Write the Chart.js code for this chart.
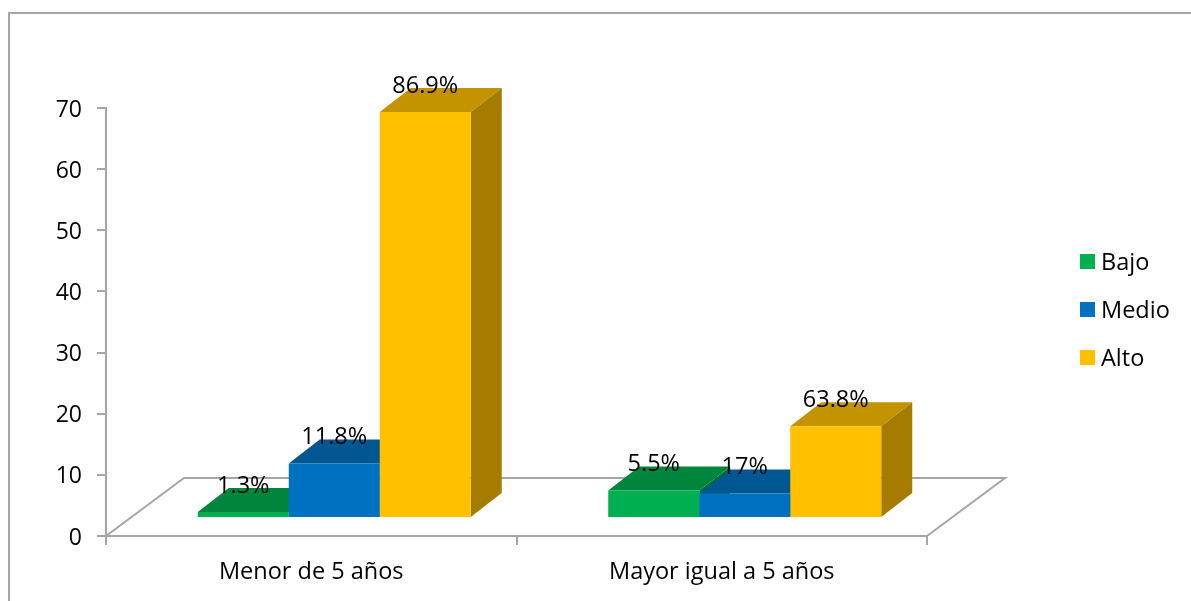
<!DOCTYPE html>
<html>
<head>
<meta charset="utf-8">
<title>Grafico</title>
<script src="https://cdn.jsdelivr.net/npm/chart.js@4/dist/chart.umd.min.js"></script>
<style>
html, body { margin: 0; padding: 0; background: #fff; overflow: hidden; }
canvas { display: block; }
</style>
</head>
<body>
<canvas id="grafico" width="1191" height="601"></canvas>
<script>
// Datos
const categorias = ['Menor de 5 años', 'Mayor igual a 5 años'];
const bajo = [1.0, 4.5];
const medio = [8.9, 4.0];
const alto = [66.4, 15.0];
const etiquetasBajo = ['1.3%', '5.5%'];
const etiquetasMedio = ['11.8%', '17%'];
const etiquetasAlto = ['86.9%', '63.8%'];

// Colores de cada serie: frente, tapa y lado
const coloresFrente = ['#00B050', '#0070C0', '#FFC000'];
const coloresTapa = ['#00863C', '#005792', '#C49300'];
const coloresLado = ['#007135', '#004A7C', '#A67C00'];
const etiquetas = [etiquetasBajo, etiquetasMedio, etiquetasAlto];

const fuente = '"Open Sans", Lato, sans-serif';
const colorEje = '#A6A6A6';

// Desplazamiento de las barras sobre el piso y profundidad del efecto 3D
const barraDx = 23, barraDy = -18;
const fondoX = 31, fondoY = 24;
const pisoX = 78, pisoY = 58;

function cara(ctx, color, puntos) {
    ctx.fillStyle = color;
    ctx.beginPath();
    puntos.forEach((p, i) => i ? ctx.lineTo(p[0], p[1]) : ctx.moveTo(p[0], p[1]));
    ctx.closePath();
    ctx.fill();
}

// Marco, piso y caras laterales
const efecto3d = {
    id: 'efecto3d',
    beforeDraw(chart) {
        const ctx = chart.ctx;
        ctx.save();
        ctx.strokeStyle = colorEje;
        ctx.lineWidth = 2;
        ctx.beginPath();
        ctx.moveTo(9, 601);
        ctx.lineTo(9, 13);
        ctx.lineTo(1191, 13);
        ctx.stroke();
        ctx.restore();
    },
    beforeDatasetsDraw(chart) {
        const ctx = chart.ctx;
        const a = chart.chartArea;
        ctx.save();
        ctx.strokeStyle = colorEje;
        ctx.lineWidth = 2;
        ctx.beginPath();
        ctx.moveTo(a.left, a.bottom);
        ctx.lineTo(a.left + pisoX, a.bottom - pisoY);
        ctx.lineTo(a.right + pisoX, a.bottom - pisoY);
        ctx.lineTo(a.right, a.bottom);
        ctx.stroke();
        ctx.restore();

        ctx.save();
        ctx.translate(barraDx, barraDy);
        categorias.forEach((c, i) => {
            chart.data.datasets.forEach((d, s) => {
                const b = chart.getDatasetMeta(s).data[i];
                const izq = b.x - b.width / 2, der = b.x + b.width / 2;
                cara(ctx, coloresTapa[s], [[izq, b.y], [der, b.y], [der + fondoX, b.y - fondoY], [izq + fondoX, b.y - fondoY]]);
                cara(ctx, coloresLado[s], [[der, b.y], [der + fondoX, b.y - fondoY], [der + fondoX, b.base - fondoY], [der, b.base]]);
            });
        });
        // queda abierto para que las barras salgan desplazadas
    },
    afterDatasetsDraw(chart) {
        const ctx = chart.ctx;
        ctx.restore();

        // Etiquetas de porcentaje
        ctx.save();
        ctx.font = '23.5px ' + fuente;
        ctx.fillStyle = '#000';
        ctx.textAlign = 'center';
        ctx.textBaseline = 'middle';
        chart.data.datasets.forEach((d, s) => {
            chart.getDatasetMeta(s).data.forEach((b, i) => {
                ctx.fillText(etiquetas[s][i], b.x + barraDx, b.y + barraDy - 26);
            });
        });

        // Leyenda
        chart.data.datasets.forEach((d, s) => {
            const y = 263 + s * 48;
            ctx.fillStyle = coloresFrente[s];
            ctx.fillRect(1080, y - 9, 15, 15);
            ctx.fillStyle = '#000';
            ctx.textAlign = 'left';
            ctx.fillText(d.label, 1101, y);
        });
        ctx.restore();
    }
};

const grafico = new Chart(document.getElementById('grafico').getContext('2d'), {
    type: 'bar',
    data: {
        labels: categorias,
        datasets: [
            { label: 'Bajo', data: bajo, backgroundColor: coloresFrente[0] },
            { label: 'Medio', data: medio, backgroundColor: coloresFrente[1] },
            { label: 'Alto', data: alto, backgroundColor: coloresFrente[2] }
        ]
    },
    options: {
        responsive: false,
        animation: false,
        barPercentage: 1,
        categoryPercentage: 0.665,
        layout: { padding: { top: 108, right: 264, left: 0, bottom: 0 } },
        plugins: { legend: { display: false }, title: { display: false }, tooltip: { enabled: false } },
        scales: {
            x: {
                afterFit(scale) { scale.height = 65; },
                grid: { drawOnChartArea: false, color: colorEje, lineWidth: 2, tickLength: 9 },
                border: { color: colorEje, width: 2 },
                ticks: { color: '#000', font: { family: fuente, size: 23.5 }, padding: 13, maxRotation: 0 }
            },
            y: {
                min: 0,
                max: 70,
                afterFit(scale) { scale.width = 106; },
                grid: { drawOnChartArea: false, color: colorEje, lineWidth: 2, tickLength: 9 },
                border: { color: colorEje, width: 2 },
                ticks: { stepSize: 10, color: '#000', font: { family: fuente, size: 23 }, padding: 15, labelOffset: 2 }
            }
        }
    },
    plugins: [efecto3d]
});
</script>
</body>
</html>
